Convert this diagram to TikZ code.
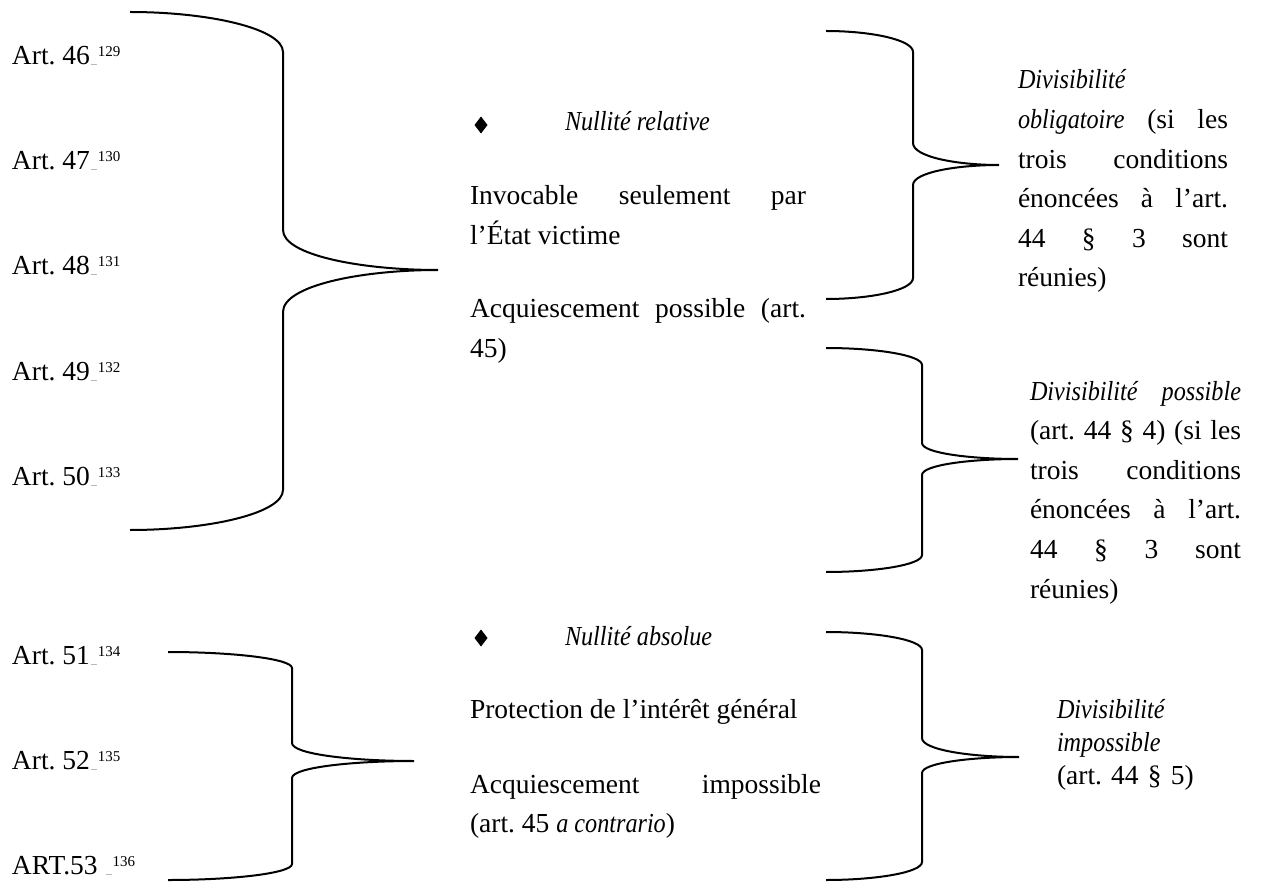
\documentclass[tikz,border=0pt]{standalone}
\usepackage{fontspec}
\setmainfont{Liberation Serif}[
  ItalicFont={Liberation Serif Italic},
  ItalicFeatures={FakeStretch=0.88}]
\frenchspacing
\tolerance=10000
\hyphenpenalty=10000
\exhyphenpenalty=10000
\hbadness=10000
\definecolor{refmark}{gray}{0.72}

% article label with its footnote call
\newcommand\artref[2]{#1\kern1pt\textcolor{refmark}{\rule[-0.5pt]{6pt}{1pt}}\kern1pt\raisebox{8pt}{\fontsize{15}{15}\selectfont #2}}

% curly brace: xe, xv, xt, ytop, ytip, ybottom, end depth, upper gap, lower gap
\newcommand\curlybrace[9]{%
  \pgfmathsetmacro\cbA{#1+0.52*(#2-#1)}%
  \pgfmathsetmacro\cbB{#2+0.5*(#3-#2)}%
  \draw[bracestroke] (#1,#4) .. controls (\cbA,#4) and (#2,#4+0.42*#7) .. (#2,#4+#7)
    -- (#2,#5-#8) .. controls (#2,#5-0.375*#8) and (\cbB,#5) .. (#3,#5)
    .. controls (\cbB,#5) and (#2,#5+0.375*#9) .. (#2,#5+#9)
    -- (#2,#6-#7) .. controls (#2,#6-0.42*#7) and (\cbA,#6) .. (#1,#6);
}

\begin{document}
\begin{tikzpicture}[x=1pt,y=-1pt,
  txt/.style={inner sep=0pt, outer sep=0pt, anchor=base west,
    font=\fontsize{27.5}{39.6}\selectfont},
  para/.style={txt, align=justify},
  bracestroke/.style={line width=2pt}]

\useasboundingbox (0,0) rectangle (1263,882);

% left column: articles
\node[txt] (a46) at (12,65)  {\artref{Art. 46}{129}};
\node[txt] (a47) at (12,170) {\artref{Art. 47}{130}};
\node[txt] (a48) at (12,275) {\artref{Art. 48}{131}};
\node[txt] (a49) at (12,380) {\artref{Art. 49}{132}};
\node[txt] (a50) at (12,485) {\artref{Art. 50}{133}};
\node[txt] (a51) at (12,664) {\artref{Art. 51}{134}};
\node[txt] (a52) at (12,769) {\artref{Art. 52}{135}};
\node[txt] (a53) at (12,874) {\artref{ART.53 }{136}};

% braces grouping the articles
\curlybrace{130}{283}{438}{12}{270}{530}{40}{40}{42}
\curlybrace{168}{292}{414}{652}{761}{880}{16}{18}{17}

% middle column: relative nullity
\fill (481,125) +(0,-8.5) -- +(6.5,0) -- +(0,8.5) -- +(-6.5,0) -- cycle;
\node[txt] (nrel) at (565,131) {\textit{Nullité relative}};
\node[para, text width=336pt] (inv) at (470,205)
  {Invocable seulement par\linebreak l’État victime};
\node[para, text width=336pt] (acqp) at (470,318)
  {Acquiescement possible (art.\linebreak 45)};

% middle column: absolute nullity
\fill (481,638) +(0,-8.5) -- +(6.5,0) -- +(0,8.5) -- +(-6.5,0) -- cycle;
\node[txt] (nabs) at (565,645) {\textit{Nullité absolue}};
\node[txt] (prot) at (470,718) {Protection de l’intérêt général};
\node[para, text width=351pt] (acqi) at (470,793)
  {Acquiescement impossible\linebreak (art. 45 \textit{a contrario})};

% braces towards the consequences
\curlybrace{826}{913}{999}{31}{165}{299}{21}{22}{20}
\curlybrace{826}{922}{1018}{348}{459}{572}{17}{16}{16}
\curlybrace{826}{922}{1019}{632}{757}{880}{18}{19}{16}

% right column: divisibility
\node[para, text width=210pt] (dobl) at (1018,89)
  {\textit{Divisibilité}\linebreak \textit{obligatoire} (si les\linebreak trois conditions\linebreak énoncées à l’art.\linebreak 44 § 3 sont\linebreak réunies)};
\node[para, text width=211pt] (dpos) at (1030,400)
  {\textit{Divisibilité possible}\linebreak (art. 44 § 4) (si les\linebreak trois conditions\linebreak énoncées à l’art.\linebreak 44 § 3 sont\linebreak réunies)};
\node[txt, text width=200pt, align=left, font=\fontsize{27.5}{33}\selectfont] (dimp) at (1057,718)
  {\textit{Divisibilité}\\ \textit{impossible}\\ (art. 44 § 5)};
\end{tikzpicture}
\end{document}
